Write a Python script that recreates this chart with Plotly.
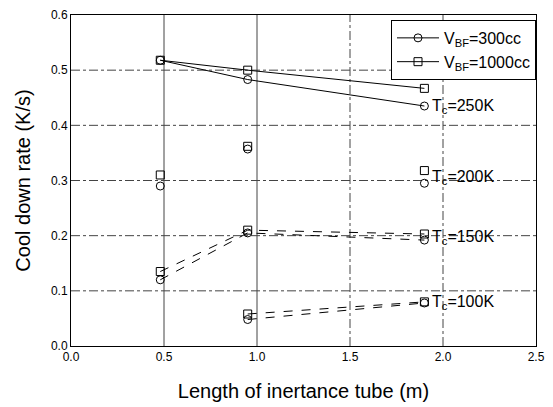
import plotly.graph_objects as go

x3 = [0.48, 0.95, 1.9]
x2 = [0.95, 1.9]

tc250_300 = [0.518, 0.483, 0.435]
tc250_1000 = [0.518, 0.500, 0.467]
tc200_300 = [0.290, 0.357, 0.295]
tc200_1000 = [0.310, 0.362, 0.318]
tc150_300 = [0.120, 0.205, 0.192]
tc150_1000 = [0.135, 0.210, 0.203]
tc100_300 = [0.048, 0.078]
tc100_1000 = [0.058, 0.080]

labels = ["T<sub>c</sub>=250K", "T<sub>c</sub>=200K", "T<sub>c</sub>=150K", "T<sub>c</sub>=100K"]
label_y = [0.435, 0.306, 0.197, 0.079]

FONT = "Liberation Sans, Arial, sans-serif"
circ = dict(symbol="circle-open", size=8, color="black", line=dict(width=1))
sq = dict(symbol="square-open", size=8, color="black", line=dict(width=1))

fig = go.Figure()
fig.add_trace(go.Scatter(x=x3, y=tc250_300, mode="lines+markers", marker=circ,
                         line=dict(color="black", width=1), name="V<sub>BF</sub>=300cc"))
fig.add_trace(go.Scatter(x=x3, y=tc250_1000, mode="lines+markers", marker=sq,
                         line=dict(color="black", width=1), name="V<sub>BF</sub>=1000cc"))
fig.add_trace(go.Scatter(x=x3, y=tc200_300, mode="markers", marker=circ, showlegend=False))
fig.add_trace(go.Scatter(x=x3, y=tc200_1000, mode="markers", marker=sq, showlegend=False))
fig.add_trace(go.Scatter(x=x3, y=tc150_300, mode="lines+markers", marker=circ,
                         line=dict(color="black", width=1, dash="dash"), showlegend=False))
fig.add_trace(go.Scatter(x=x3, y=tc150_1000, mode="lines+markers", marker=sq,
                         line=dict(color="black", width=1, dash="dash"), showlegend=False))
fig.add_trace(go.Scatter(x=x2, y=tc100_300, mode="lines+markers", marker=circ,
                         line=dict(color="black", width=1, dash="dash"), showlegend=False))
fig.add_trace(go.Scatter(x=x2, y=tc100_1000, mode="lines+markers", marker=sq,
                         line=dict(color="black", width=1, dash="dash"), showlegend=False))

for lab, ly in zip(labels, label_y):
    fig.add_annotation(x=1.93, y=ly, text=lab, showarrow=False, xanchor="left",
                       font=dict(family=FONT, size=16, color="black"))

for gx, d in [(0.5, "solid"), (1.0, "solid"), (1.5, "dashdot"), (2.0, "dashdot")]:
    fig.add_shape(type="line", x0=gx, x1=gx, y0=0, y1=0.6, layer="below",
                  line=dict(color="#444", width=1, dash=d))
for gy in [0.1, 0.2, 0.3, 0.4, 0.5]:
    fig.add_shape(type="line", x0=0, x1=2.5, y0=gy, y1=gy, layer="below",
                  line=dict(color="#444", width=1, dash="dashdot"))

fig.update_layout(
    width=553, height=407,
    margin=dict(l=71, r=8, t=15, b=61),
    paper_bgcolor="white", plot_bgcolor="white",
    font=dict(family=FONT, color="black"),
    legend=dict(x=1.0, y=0.985, xanchor="right", yanchor="top",
                bordercolor="black", borderwidth=1, bgcolor="white",
                itemwidth=42,
                font=dict(size=16, family=FONT), tracegroupgap=0),
    xaxis=dict(range=[0, 2.5], tickvals=[0, 0.5, 1.0, 1.5, 2.0, 2.5],
               ticktext=["0.0", "0.5", "1.0", "1.5", "2.0", "2.5"],
               ticklabeloverflow="allow",
               showgrid=False, zeroline=False, showline=True, mirror=True,
               linecolor="black", linewidth=1, ticks="", tickfont=dict(size=12),
               title=dict(text="Length of inertance tube (m)", font=dict(size=20), standoff=20)),
    yaxis=dict(range=[0, 0.6], tickvals=[0, 0.1, 0.2, 0.3, 0.4, 0.5, 0.6],
               ticktext=["0.0", "0.1", "0.2", "0.3", "0.4", "0.5", "0.6"],
               showgrid=False, zeroline=False, showline=True, mirror=True,
               linecolor="black", linewidth=1, ticks="", tickfont=dict(size=12),
               title=dict(text="Cool down rate (K/s)", font=dict(size=20), standoff=14)),
)

fig.write_html("out.html")
